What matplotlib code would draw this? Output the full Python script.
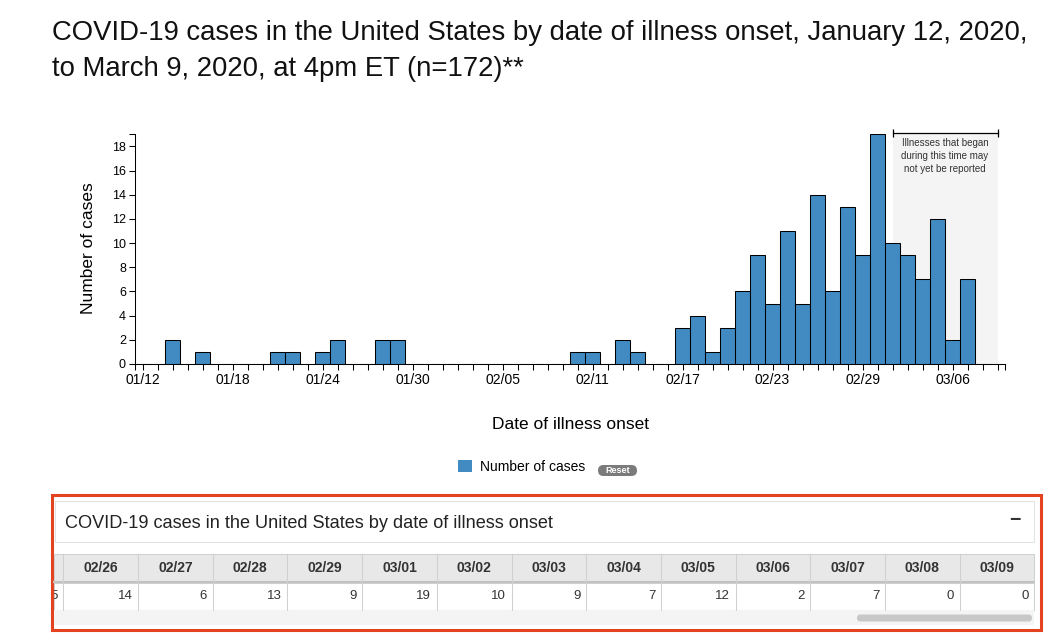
import matplotlib.pyplot as plt
from matplotlib.patches import Rectangle, FancyBboxPatch, Patch

plt.rcParams['font.family'] = ['Liberation Sans', 'DejaVu Sans']

dates = ["01/12", "01/13", "01/14", "01/15", "01/16", "01/17", "01/18", "01/19",
         "01/20", "01/21", "01/22", "01/23", "01/24", "01/25", "01/26", "01/27",
         "01/28", "01/29", "01/30", "01/31", "02/01", "02/02", "02/03", "02/04",
         "02/05", "02/06", "02/07", "02/08", "02/09", "02/10", "02/11", "02/12",
         "02/13", "02/14", "02/15", "02/16", "02/17", "02/18", "02/19", "02/20",
         "02/21", "02/22", "02/23", "02/24", "02/25", "02/26", "02/27", "02/28",
         "02/29", "03/01", "03/02", "03/03", "03/04", "03/05", "03/06", "03/07",
         "03/08", "03/09"]
cases = [0, 0, 2, 0, 1, 0, 0, 0,
         0, 1, 1, 0, 1, 2, 0, 0,
         2, 2, 0, 0, 0, 0, 0, 0,
         0, 0, 0, 0, 0, 1, 1, 0,
         2, 1, 0, 0, 3, 4, 1, 3,
         6, 9, 5, 11, 5, 14, 6, 13,
         9, 19, 10, 9, 7, 12, 2, 7,
         0, 0]
tick_dates = ["01/12", "01/18", "01/24", "01/30", "02/05", "02/11", "02/17",
              "02/23", "02/29", "03/06"]
lag_start = "03/02"   # shaded "may not yet be reported" window
lag_end = "03/09"
table_first = "02/25"  # table is scrolled, this column is cut off on the left

title_1 = "COVID-19 cases in the United States by date of illness onset, January 12, 2020,"
title_2 = "to March 9, 2020, at 4pm ET (n=172)**"
panel_title = "COVID-19 cases in the United States by date of illness onset"

bar_blue = '#418bc2'
W, H = 1050, 642

fig = plt.figure(figsize=(W / 100, H / 100), dpi=100)

# ---- histogram ----
ax = fig.add_axes([135 / W, 1 - 364 / H, 870 / W, 229.7 / H])
x = list(range(len(dates)))
ax.bar(x, cases, width=1.0, color=bar_blue, edgecolor='black', linewidth=0.75, zorder=2)
ax.set_xlim(-0.5, len(dates) - 0.5)
ax.set_ylim(0, max(cases))

i0, i1 = dates.index(lag_start), dates.index(lag_end)
ax.axvspan(i0, i1, color='#f4f4f4', lw=0, zorder=0)
ytop = max(cases) + 0.08
ax.plot([i0, i1], [ytop, ytop], color='black', lw=0.9, clip_on=False, zorder=3)
ax.plot([i0, i1], [ytop, ytop], ls='none', marker='|', ms=6, mew=0.9,
        color='black', clip_on=False, zorder=3)
ax.text((i0 + i1) / 2, 18.7, "Illnesses that began\nduring this time may\nnot yet be reported",
        ha='center', va='top', fontsize=7, linespacing=1.35, color='#333333')

ax.set_xticks([dates.index(d) for d in tick_dates], tick_dates)
ax.set_xticks(x + [-0.5, len(dates) - 0.5], minor=True)
ax.set_yticks(range(0, 19, 2))
ax.set_yticks([max(cases)], minor=True)
ax.tick_params(which='both', length=4.3, width=0.75, color='black', pad=2.2)
ax.tick_params(axis='x', labelsize=10)
ax.tick_params(axis='y', labelsize=9)
for s in ['top', 'right']:
    ax.spines[s].set_visible(False)
for s in ['left', 'bottom']:
    ax.spines[s].set_linewidth(0.75)

ax.set_ylabel("Number of cases", fontsize=12.5, va='center')
ax.yaxis.set_label_coords((88.5 - 135) / 870, 116 / 229.7)
ax.set_xlabel("Date of illness onset", fontsize=12.5, va='center')
ax.xaxis.set_label_coords(0.5, -(425 - 364) / 229.7)

# title
fig.text(52 / W, 1 - 39.5 / H, title_1, fontsize=19.8, va='baseline', color='#111111')
fig.text(52 / W, 1 - 75.5 / H, title_2, fontsize=19.8, va='baseline', color='#111111')

# legend
fig.legend([Patch(facecolor=bar_blue, edgecolor='none')], ["Number of cases"],
           loc='center left', bbox_to_anchor=(458 / W, 1 - 467 / H), frameon=False,
           fontsize=10, handlelength=1.0, handleheight=0.95, handletextpad=0.55,
           borderpad=0, borderaxespad=0)

# ---- overlay in pixel coords: reset pill + data table panel ----
ov = fig.add_axes([0, 0, 1, 1])
ov.set_xlim(0, W)
ov.set_ylim(H, 0)
ov.axis('off')

ov.add_patch(FancyBboxPatch((598, 465), 39, 11, boxstyle='round,pad=0,rounding_size=5.5',
                            fc='#7b7b7b', ec='none'))
ov.text(617.5, 470.7, "Reset", ha='center', va='center', fontsize=6.5, weight='bold', color='white')

ov.add_patch(Rectangle((51.5, 494.5), 989, 135, fill=False, ec='#e4431f', lw=2.2))
ov.add_patch(Rectangle((55, 501), 979, 41, fc='white', ec='#e2e2e2', lw=0.75))
ov.text(65, 523, panel_title, fontsize=13.1, va='center', color='#222222')
ov.text(1015, 521, "\u2212", fontsize=14, weight='bold', ha='center', va='center', color='#333333')

ov.add_patch(Rectangle((54, 553.5), 980, 28, fc='#e8e8e8', ec='#d0d0d0', lw=0.75))
ov.add_patch(Rectangle((54, 582.5), 980, 27, fc='white', ec='#d0d0d0', lw=0.75))
ov.plot([54, 1034], [582, 582], color='#c2c2c2', lw=1.5)
ov.add_patch(Rectangle((54, 610), 980, 15, fc='#f4f4f4', ec='none'))
ov.add_patch(FancyBboxPatch((857, 614.5), 175, 7, boxstyle='round,pad=0,rounding_size=3.5',
                            fc='#c8c8c8', ec='none'))

clip = Rectangle((54, 550), 980, 62, transform=ov.transData)
col_w = 74.7
table_left = 63.3 - col_w
k0 = dates.index(table_first)
for j, d in enumerate(dates[k0:]):
    left = table_left + col_w * j
    right = left + col_w
    if right > 54:
        ov.plot([right, right], [553.5, 609.5], color='#d0d0d0', lw=0.75)
    t1 = ov.text(left + col_w / 2, 568, d, ha='center', va='center', fontsize=10,
                 weight='bold', color='#333333')
    t2 = ov.text(right - 5.5, 596, str(cases[k0 + j]), ha='right', va='center',
                 fontsize=9.5, color='#333333')
    for t in (t1, t2):
        t.set_clip_on(True)
        t.set_clip_path(clip)

fig.savefig("out.png", dpi=100)
